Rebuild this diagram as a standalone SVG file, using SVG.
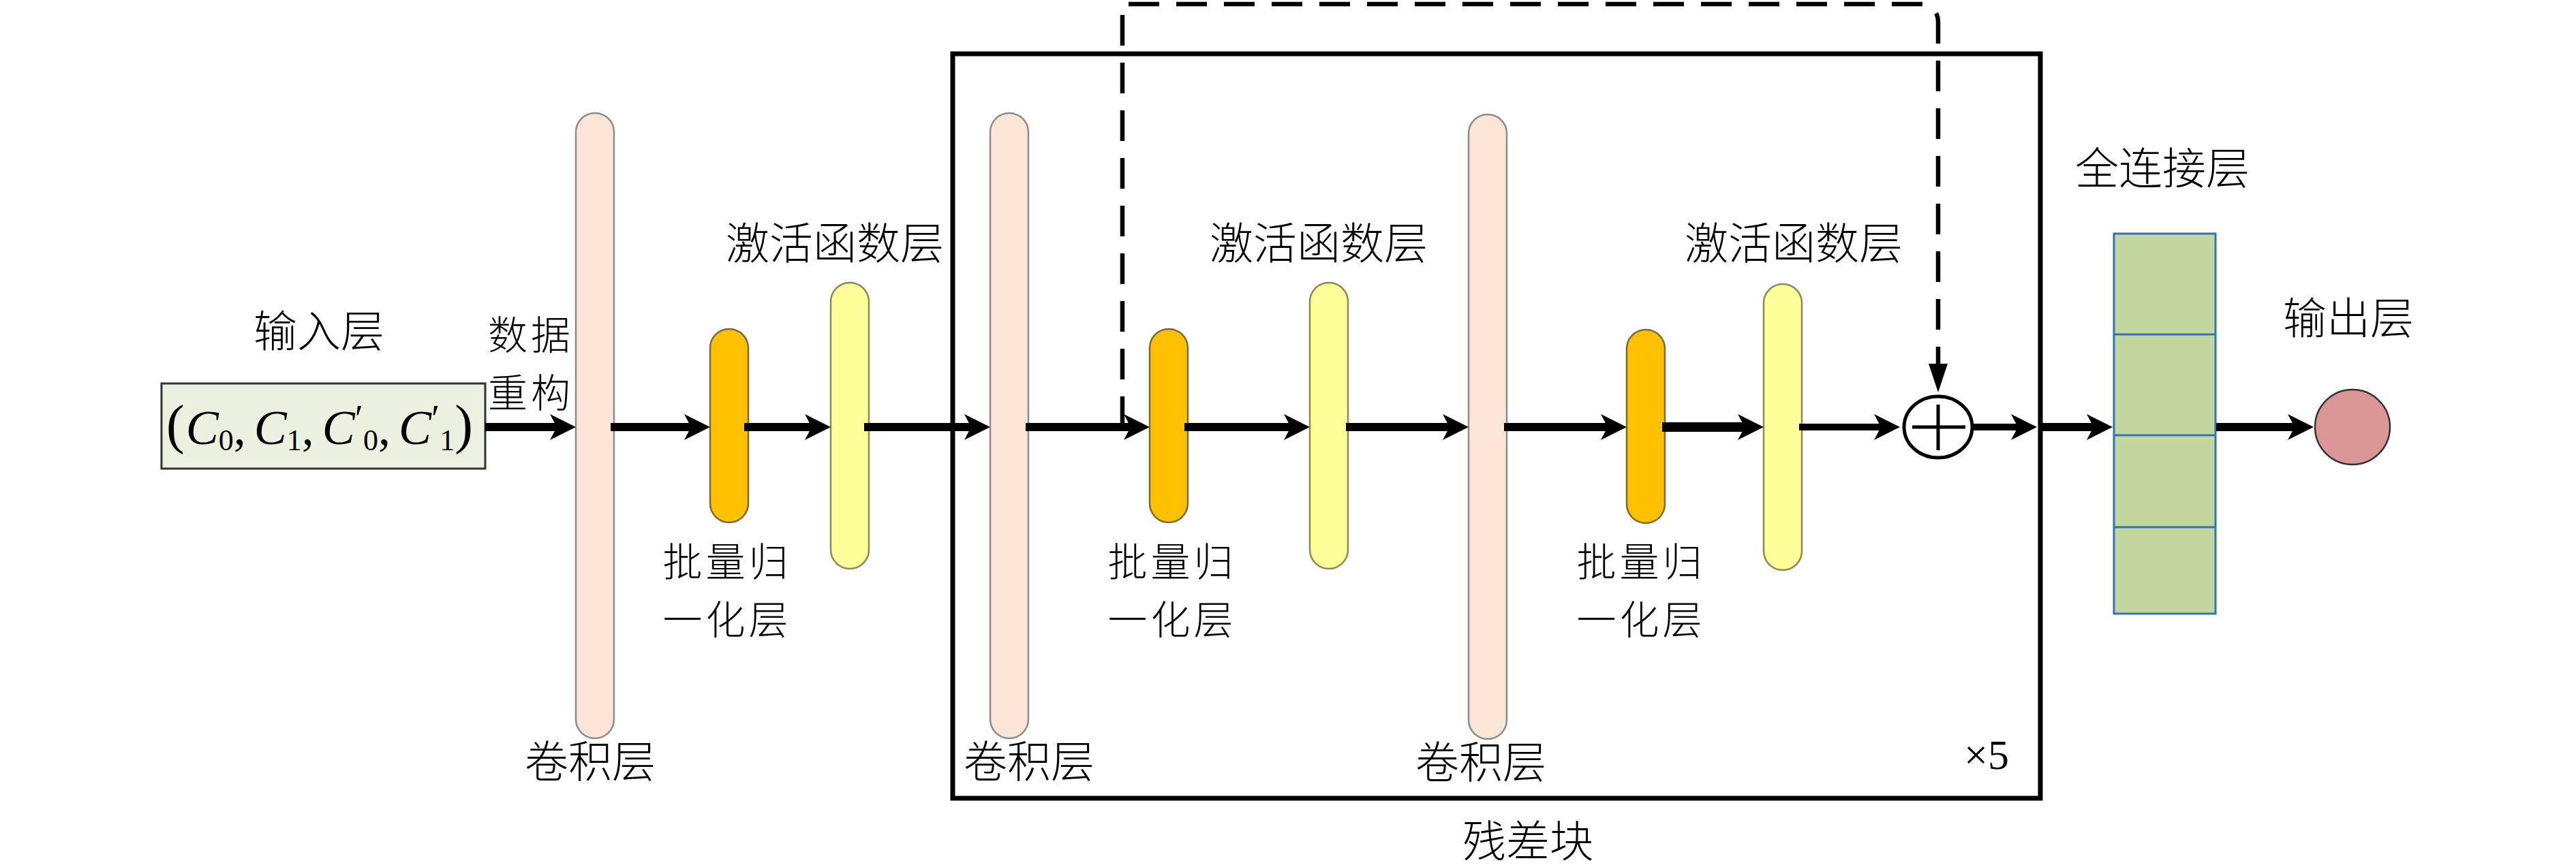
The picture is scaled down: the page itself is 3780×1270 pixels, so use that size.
<svg xmlns="http://www.w3.org/2000/svg" width="3780" height="1270" viewBox="0 0 3780 1270">
<defs>
<style>
.cjk{font-family:"Noto Sans CJK SC","Noto Sans CJK JP",sans-serif;font-size:64px;font-weight:300;fill:#000;text-anchor:middle}
.two{font-size:58px;letter-spacing:5px}
.math{font-family:"Liberation Serif",serif;fill:#000;font-size:72px}
.it{font-style:italic;font-size:72px}
.par{font-size:80px}
.sub{font-size:44px}
.pr{font-size:56px}
.conv{fill:#fbe5d6;stroke:#8c8c8c;stroke-width:2.5}
.bn{fill:#ffc000;stroke:#7a6a3a;stroke-width:2.5}
.act{fill:#ffff99;stroke:#8a8a55;stroke-width:2.5}
.arrow{stroke:#000;stroke-width:12;fill:none;marker-end:url(#stealth)}
.dash{stroke:#000;stroke-width:6.5;fill:none;stroke-dasharray:45 25}
</style>
<marker id="stealth" markerUnits="userSpaceOnUse" markerWidth="38" markerHeight="38" refX="16" refY="19" orient="auto" overflow="visible">
<path d="M0,0 L38,19 L0,38 L10,19 z" fill="#000"/>
</marker>
<marker id="tri" markerUnits="userSpaceOnUse" markerWidth="42" markerHeight="28" refX="11" refY="14" orient="auto" overflow="visible">
<path d="M0,0 L42,14 L0,28 z" fill="#000"/>
</marker>
</defs>
<rect width="3780" height="1270" fill="#fff"/>

<g id="residual-block">
<rect x="1398" y="79" width="1596" height="1093" fill="none" stroke="#000" stroke-width="7"/>
<text class="cjk" x="2242" y="1258">残差块</text>
<text class="math" x="2882" y="1129" style="font-size:62px">×5</text>
</g>

<g id="input">
<rect x="237" y="563" width="475" height="125" fill="#ebf1de" stroke="#333" stroke-width="3"/>
<text class="cjk" x="468" y="509">输入层</text>
<text class="math" x="244" y="650"><tspan class="par">(</tspan><tspan class="it" dx="2" dy="2">C</tspan><tspan class="sub" dy="9">0</tspan><tspan dy="-9">,</tspan><tspan class="it" dx="12">C</tspan><tspan class="sub" dy="9">1</tspan><tspan dy="-9">,</tspan><tspan class="it" dx="12">C</tspan><tspan class="pr" dy="-18">′</tspan><tspan class="sub" dy="27">0</tspan><tspan dy="-9">,</tspan><tspan class="it" dx="12">C</tspan><tspan class="pr" dy="-18">′</tspan><tspan class="sub" dy="27">1</tspan><tspan class="par" dy="-11">)</tspan></text>
</g>

<g id="reshape-label">
<text class="cjk two" x="779" y="513">数据</text>
<text class="cjk two" x="779" y="598">重构</text>
</g>

<g id="conv1">
<rect class="conv" x="845" y="166" width="56" height="918" rx="28" ry="28"/>
<text class="cjk" x="866" y="1141">卷积层</text>
</g>
<g id="bn1">
<rect class="bn" x="1042" y="483" width="56" height="284" rx="28" ry="28"/>
<text class="cjk two" x="1067" y="846">批量归</text>
<text class="cjk two" x="1067" y="931">一化层</text>
</g>
<g id="act1">
<rect class="act" x="1219" y="415" width="56" height="420" rx="28" ry="28"/>
<text class="cjk" x="1225" y="380">激活函数层</text>
</g>

<g id="conv2">
<rect class="conv" x="1453" y="166" width="56" height="918" rx="28" ry="28"/>
<text class="cjk" x="1510" y="1141">卷积层</text>
</g>
<g id="bn2">
<rect class="bn" x="1687" y="483" width="56" height="284" rx="28" ry="28"/>
<text class="cjk two" x="1720" y="846">批量归</text>
<text class="cjk two" x="1720" y="931">一化层</text>
</g>
<g id="act2">
<rect class="act" x="1922" y="415" width="56" height="420" rx="28" ry="28"/>
<text class="cjk" x="1935" y="380">激活函数层</text>
</g>

<g id="conv3">
<rect class="conv" x="2155" y="168" width="56" height="917" rx="28" ry="28"/>
<text class="cjk" x="2173" y="1142">卷积层</text>
</g>
<g id="bn3">
<rect class="bn" x="2387" y="484" width="56" height="284" rx="28" ry="28"/>
<text class="cjk two" x="2408" y="846">批量归</text>
<text class="cjk two" x="2408" y="931">一化层</text>
</g>
<g id="act3">
<rect class="act" x="2588" y="417" width="56" height="420" rx="28" ry="28"/>
<text class="cjk" x="2632" y="380">激活函数层</text>
</g>

<g id="add">
<ellipse cx="2844" cy="627" rx="50" ry="45" fill="#fff" stroke="#000" stroke-width="5"/>
<line x1="2806" y1="627" x2="2884" y2="627" stroke="#000" stroke-width="5"/>
<line x1="2844" y1="594" x2="2844" y2="661" stroke="#000" stroke-width="5"/>
</g>

<g id="fc">
<rect x="3102" y="343" width="149" height="558" fill="#c4d6a0" stroke="#2e75b6" stroke-width="3"/>
<line x1="3102" y1="491" x2="3251" y2="491" stroke="#2e75b6" stroke-width="3"/>
<line x1="3102" y1="639" x2="3251" y2="639" stroke="#2e75b6" stroke-width="3"/>
<line x1="3102" y1="774" x2="3251" y2="774" stroke="#2e75b6" stroke-width="3"/>
<text class="cjk" x="3173" y="270">全连接层</text>
</g>

<g id="output">
<circle cx="3452" cy="627" r="55" fill="#d99694" stroke="#333" stroke-width="2.5"/>
<text class="cjk" x="3446" y="490">输出层</text>
</g>

<g id="connectors">
<line class="arrow" x1="712" y1="627" x2="823" y2="627"/>
<line class="arrow" x1="896" y1="627" x2="1020" y2="627"/>
<line class="arrow" x1="1092" y1="627" x2="1197" y2="627"/>
<line class="arrow" x1="1268" y1="627" x2="1431" y2="627"/>
<line class="arrow" x1="1505" y1="627" x2="1665" y2="627"/>
<line class="arrow" x1="1738" y1="627" x2="1900" y2="627"/>
<line class="arrow" x1="1975" y1="627" x2="2133" y2="627"/>
<line class="arrow" x1="2207" y1="627" x2="2365" y2="627"/>
<line class="arrow" x1="2439" y1="627" x2="2566" y2="627" style="stroke-width:14"/>
<line class="arrow" x1="2640" y1="627" x2="2766" y2="627" style="stroke-width:10"/>
<line class="arrow" x1="2895" y1="627" x2="2967" y2="627" style="stroke-width:10"/>
<line class="arrow" x1="2995" y1="627" x2="3078" y2="627"/>
<line class="arrow" x1="3252" y1="627" x2="3373" y2="627"/>
<path class="dash" d="M1647,627 V6 H2819 A25,25 0 0 1 2844,31 V545" marker-end="url(#tri)"/>
</g>
</svg>
